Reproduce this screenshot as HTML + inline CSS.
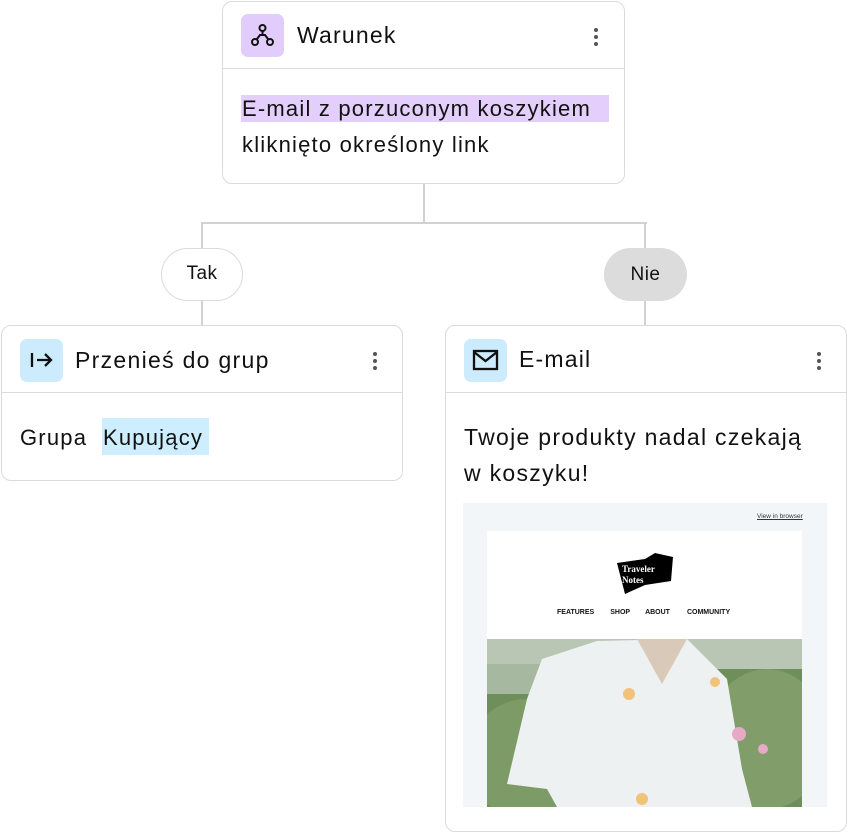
<!DOCTYPE html>
<html><head><meta charset="utf-8"><style>
*{margin:0;padding:0;box-sizing:border-box}
body{width:847px;height:833px;background:#fff;position:relative;overflow:hidden;font-family:"Liberation Sans",sans-serif;color:#111}
.a{position:absolute}
.card{position:absolute;background:#fff;border:1.5px solid #d9dbde;border-radius:10px;overflow:hidden}
.hl{position:absolute;left:0;right:0;top:66px;height:0;border-top:1.5px solid #d9dbde}
.ic{position:absolute;width:43px;height:43px;border-radius:7px}
.t{position:absolute;font-size:22px;white-space:nowrap;line-height:1;letter-spacing:1.2px}
.dots{position:absolute;width:4px}
.dots i{display:block;width:4px;height:4px;border-radius:2px;background:#555;margin-bottom:3px}
.line{position:absolute;background:#d0d2d5}
</style></head><body>

<div class="line" style="left:423px;top:183px;width:2px;height:41px"></div>
<div class="line" style="left:201px;top:222px;width:446px;height:2px"></div>
<div class="line" style="left:201px;top:222px;width:2px;height:104px"></div>
<div class="line" style="left:644px;top:222px;width:2px;height:104px"></div>

<div class="a" style="left:161px;top:248px;width:82px;height:53px;border:1.5px solid #d9dbde;border-radius:27px;background:#fff;font-size:19px;text-align:center;line-height:50px;letter-spacing:0.5px">Tak</div>
<div class="a" style="left:604px;top:248px;width:83px;height:53px;border-radius:27px;background:#dcdcdc;font-size:19px;text-align:center;line-height:53px;letter-spacing:0.5px">Nie</div>

<div class="card" style="left:222px;top:1px;width:403px;height:183px">
  <div class="ic" style="left:18px;top:12px;background:#e1ccfb">
    <svg width="43" height="43" viewBox="0 0 43 43" fill="none" stroke="#111" stroke-width="2"><circle cx="21.5" cy="14" r="3"/><circle cx="14" cy="28" r="3"/><circle cx="29" cy="28" r="3"/><path d="M21.5 17v4M16 25l3-4h5l3 4"/></svg>
  </div>
  <div class="t" style="left:74px;top:22px;font-size:23px">Warunek</div>
  <div class="dots" style="left:371px;top:26px"><i></i><i></i><i></i></div>
  <div class="hl"></div>
  <div class="a" style="left:18px;top:93px;width:368px;height:27px;background:#e4cffc"></div>
  <div class="t" style="left:19px;top:96px">E-mail z porzuconym koszykiem</div>
  <div class="t" style="left:19px;top:132px">kliknięto określony link</div>
</div>

<div class="card" style="left:1px;top:325px;width:402px;height:156px">
  <div class="ic" style="left:18px;top:13px;background:#ccebfd">
    <svg width="43" height="43" viewBox="0 0 43 43" fill="none" stroke="#111" stroke-width="2.3"><path d="M12 14v14M17 21h13M25 15l6 6-6 6"/></svg>
  </div>
  <div class="t" style="left:73px;top:23px;font-size:23px;letter-spacing:1.3px">Przenieś do grup</div>
  <div class="dots" style="left:371px;top:26px"><i></i><i></i><i></i></div>
  <div class="hl"></div>
  <div class="a" style="left:100px;top:92px;width:107px;height:37px;background:#cdeefe"></div>
  <div class="t" style="left:18px;top:101px">Grupa</div>
  <div class="t" style="left:101px;top:101px">Kupujący</div>
</div>

<div class="card" style="left:445px;top:325px;width:402px;height:507px">
  <div class="ic" style="left:18px;top:13px;background:#ccebfd">
    <svg width="43" height="43" viewBox="0 0 43 43" fill="none" stroke="#111" stroke-width="2.3"><rect x="10" y="12" width="23" height="18"/><path d="M10 13l11.5 9L33 13"/></svg>
  </div>
  <div class="t" style="left:73px;top:22px;font-size:23px">E-mail</div>
  <div class="dots" style="left:371px;top:26px"><i></i><i></i><i></i></div>
  <div class="hl"></div>
  <div class="t" style="left:18px;top:100px;font-size:23px;letter-spacing:1.3px">Twoje produkty nadal czekają</div>
  <div class="t" style="left:18px;top:136px;font-size:23px;letter-spacing:1.3px">w koszyku!</div>
  <div class="a" style="left:17px;top:177px;width:364px;height:304px;background:#f3f6f9">
    <div class="a" style="left:294px;top:10px;font-size:6.5px;text-decoration:underline;color:#333">View in browser</div>
    <div class="a" style="left:24px;top:28px;width:315px;height:108px;background:#fff">
      <svg class="a" style="left:128px;top:20px" width="60" height="45" viewBox="0 0 60 45"><path d="M2 12L30 8L40 2L58 6L56 30L30 34L10 43Z" fill="#000"/><text x="7" y="21" fill="#fff" font-family="Liberation Serif,serif" font-size="9" font-weight="bold">Traveler</text><text x="7" y="32" fill="#fff" font-family="Liberation Serif,serif" font-size="9" font-weight="bold">Notes</text></svg>
      <div class="a" style="left:70px;top:78px;font-size:7px;font-weight:bold;white-space:nowrap">FEATURES<span style="margin-left:16px">SHOP</span><span style="margin-left:15px">ABOUT</span><span style="margin-left:17px">COMMUNITY</span></div>
    </div>
    <svg class="a" style="left:24px;top:136px" width="315" height="168" viewBox="0 0 315 168">
      <rect width="315" height="168" fill="#6f8f5a"/>
      <rect width="315" height="30" fill="#b9c6b4"/>
      <rect x="0" y="25" width="90" height="30" fill="#a6b9a0"/>
      <ellipse cx="40" cy="120" rx="60" ry="60" fill="#7d9b66"/>
      <ellipse cx="280" cy="100" rx="60" ry="70" fill="#809d6a"/>
      <path d="M55 20L110 2L200 0L240 40L255 130L265 168L70 168L60 150L20 145L40 60Z" fill="#eef1f1"/>
      <path d="M150 0L175 45L200 0Z" fill="#d9c9b8"/>
      <circle cx="252" cy="95" r="7" fill="#e6a9c6"/>
      <circle cx="276" cy="110" r="5" fill="#e6a9c6"/>
      <circle cx="142" cy="55" r="6" fill="#f0c27a"/>
      <circle cx="228" cy="43" r="5" fill="#f0c27a"/>
      <circle cx="155" cy="160" r="6" fill="#f0c27a"/>
    </svg>
  </div>
</div>
</body></html>
